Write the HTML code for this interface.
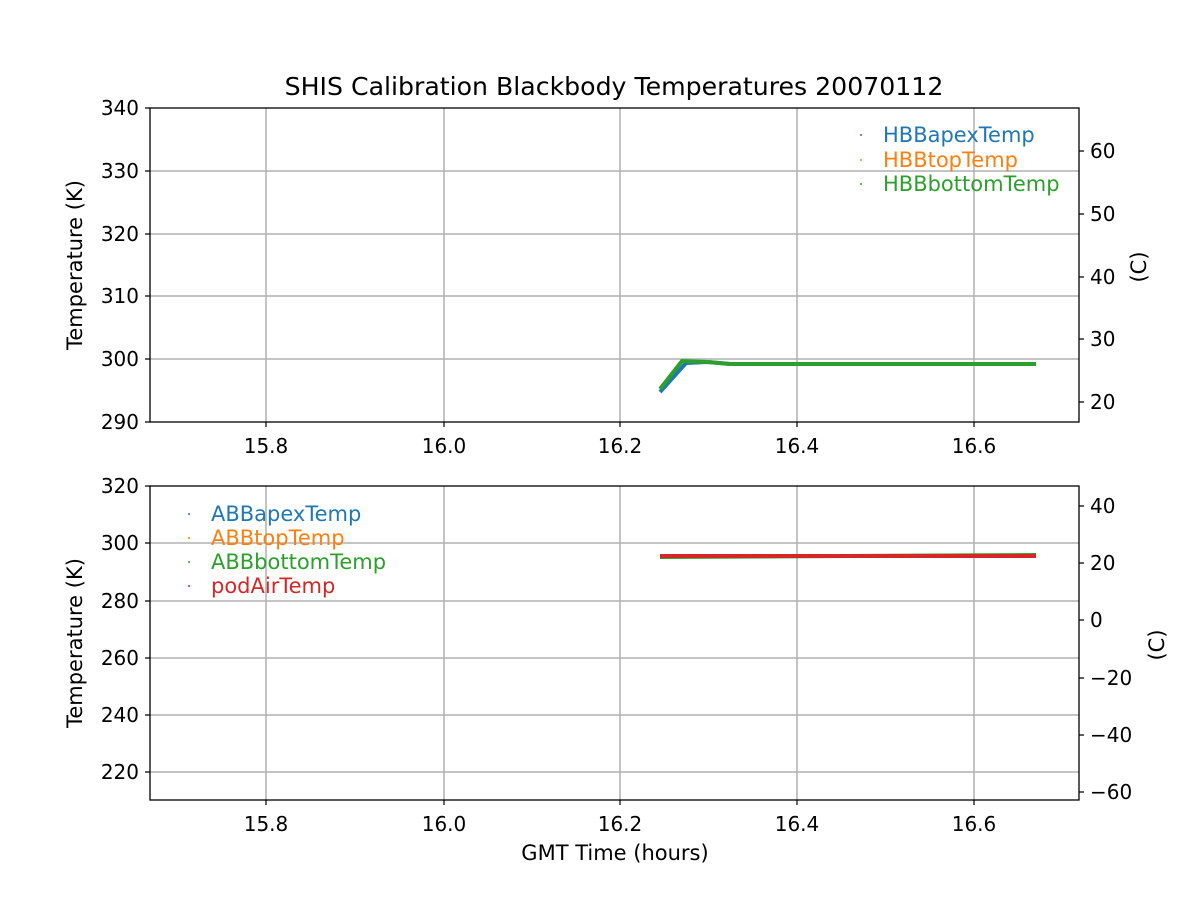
<!DOCTYPE html><html><head><style>body{margin:0;background:#fff}</style></head><body>
<svg width="1200" height="900" xmlns="http://www.w3.org/2000/svg" font-family="DejaVu Sans, Liberation Sans, sans-serif" font-size="20">
<rect width="1200" height="900" fill="#fff"/>
<text x="614" y="95" text-anchor="middle" font-size="25.2">SHIS Calibration Blackbody Temperatures 20070112</text>
<g stroke="#b0b0b0" stroke-width="1.5">
<line x1="266" y1="108" x2="266" y2="422"/><line x1="444" y1="108" x2="444" y2="422"/><line x1="620" y1="108" x2="620" y2="422"/><line x1="797" y1="108" x2="797" y2="422"/><line x1="974" y1="108" x2="974" y2="422"/>
<line x1="150" y1="171" x2="1079" y2="171"/><line x1="150" y1="234" x2="1079" y2="234"/><line x1="150" y1="296" x2="1079" y2="296"/><line x1="150" y1="359" x2="1079" y2="359"/>
<line x1="266" y1="486" x2="266" y2="800"/><line x1="444" y1="486" x2="444" y2="800"/><line x1="620" y1="486" x2="620" y2="800"/><line x1="797" y1="486" x2="797" y2="800"/><line x1="974" y1="486" x2="974" y2="800"/>
<line x1="150" y1="543" x2="1079" y2="543"/><line x1="150" y1="601" x2="1079" y2="601"/><line x1="150" y1="658" x2="1079" y2="658"/><line x1="150" y1="715" x2="1079" y2="715"/><line x1="150" y1="772" x2="1079" y2="772"/>
</g>
<polyline points="660,392 686,363 708,362 730,364 1036,364" fill="none" stroke="#1f77b4" stroke-width="4"/>
<polyline points="660,389 682,361 708,362 730,364 1036,364" fill="none" stroke="#2ca02c" stroke-width="4"/>
<line x1="660" y1="557" x2="1036" y2="555" stroke="#2ca02c" stroke-width="4"/>
<line x1="660" y1="556" x2="1036" y2="556" stroke="#d62728" stroke-width="4"/>
<g fill="none" stroke="#000" stroke-width="1.3">
<rect x="150" y="108" width="929" height="314"/><rect x="150" y="486" width="929" height="314"/>
</g>
<g stroke="#000" stroke-width="1.2">
<path d="M266 422v5M444 422v5M620 422v5M797 422v5M974 422v5M266 800v5M444 800v5M620 800v5M797 800v5M974 800v5"/>
<path d="M150 108h-5M150 171h-5M150 234h-5M150 296h-5M150 359h-5M150 422h-5"/>
<path d="M150 486h-5M150 543h-5M150 601h-5M150 658h-5M150 715h-5M150 772h-5"/>
<path d="M1079 151h5M1079 214h5M1079 277h5M1079 339h5M1079 402h5"/>
<path d="M1079 506h5M1079 563h5M1079 620h5M1079 678h5M1079 735h5M1079 792h5"/>
</g>
<g text-anchor="middle">
<text x="266" y="453">15.8</text><text x="444" y="453">16.0</text><text x="620" y="453">16.2</text><text x="797" y="453">16.4</text><text x="974" y="453">16.6</text>
<text x="266" y="831">15.8</text><text x="444" y="831">16.0</text><text x="620" y="831">16.2</text><text x="797" y="831">16.4</text><text x="974" y="831">16.6</text>
<text x="615" y="860" font-size="21">GMT Time (hours)</text>
</g>
<g text-anchor="end">
<text x="139" y="115">340</text><text x="139" y="178">330</text><text x="139" y="241">320</text><text x="139" y="303">310</text><text x="139" y="366">300</text><text x="139" y="429">290</text>
<text x="139" y="493">320</text><text x="139" y="550">300</text><text x="139" y="608">280</text><text x="139" y="665">260</text><text x="139" y="722">240</text><text x="139" y="779">220</text>
</g>
<g>
<text x="1090" y="158">60</text><text x="1090" y="221">50</text><text x="1090" y="284">40</text><text x="1090" y="346">30</text><text x="1090" y="409">20</text>
<text x="1090" y="513">40</text><text x="1090" y="570">20</text><text x="1090" y="627">0</text><text x="1090" y="685">−20</text><text x="1090" y="742">−40</text><text x="1090" y="799">−60</text>
</g>
<g font-size="21">
<text transform="translate(82,265) rotate(-90)" text-anchor="middle">Temperature (K)</text>
<text transform="translate(82,643) rotate(-90)" text-anchor="middle">Temperature (K)</text>
<text transform="translate(1146,267) rotate(-90)" text-anchor="middle">(C)</text>
<text transform="translate(1164,645) rotate(-90)" text-anchor="middle">(C)</text>
</g>
<g font-size="21">
<circle cx="861" cy="135" r="1" fill="#1f77b4"/><text x="883" y="142" fill="#1f77b4">HBBapexTemp</text>
<circle cx="861" cy="160" r="1" fill="#ff7f0e"/><text x="883" y="167" fill="#ff7f0e">HBBtopTemp</text>
<circle cx="861" cy="184" r="1" fill="#2ca02c"/><text x="883" y="191" fill="#2ca02c">HBBbottomTemp</text>
<circle cx="189" cy="514" r="1" fill="#1f77b4"/><text x="211" y="521" fill="#1f77b4">ABBapexTemp</text>
<circle cx="189" cy="538" r="1" fill="#ff7f0e"/><text x="211" y="545" fill="#ff7f0e">ABBtopTemp</text>
<circle cx="189" cy="562" r="1" fill="#2ca02c"/><text x="211" y="569" fill="#2ca02c">ABBbottomTemp</text>
<circle cx="189" cy="586" r="1" fill="#d62728"/><text x="211" y="593" fill="#d62728">podAirTemp</text>
</g>
</svg>
</body></html>
